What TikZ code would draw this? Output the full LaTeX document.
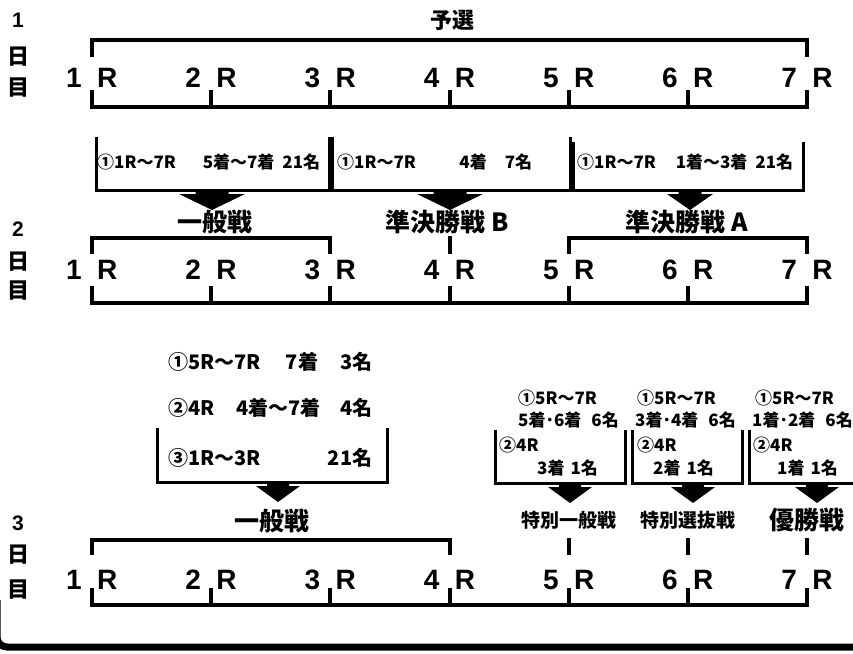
\documentclass[tikz,border=0pt]{standalone}
\usepackage{fontspec}
\newfontfamily\jpfont{Noto Sans CJK JP}
\newfontfamily\latinfont{Liberation Sans}
\usetikzlibrary{calc,positioning}

\newcommand{\fs}[1]{\fontsize{#1}{#1}\selectfont}

\begin{document}
\begin{tikzpicture}[x=1pt,y=-1pt,
    bracket/.style={line width=4pt,line cap=rect},
    boxline/.style={line width=3pt},
    racefont/.style={font=\latinfont\bfseries\fs{28},inner sep=0pt},
    dayfont/.style={font=\jpfont\bfseries\fs{22},inner sep=0pt},
    headfont/.style={font=\jpfont\bfseries\fs{25},inner sep=0pt},
    infofont/.style={font=\jpfont\bfseries\fs{17},inner sep=0pt,anchor=west}]

    \useasboundingbox (0,0) rectangle (853,653);

    % 日付 day labels
    \foreach \d/\ya/\yb/\yc in {1/20/57/88, 2/229/262/291, 3/523/555/590}
    {
        \node[font=\latinfont\bfseries\fs{21},inner sep=0pt] (dayNum\d) at (18,\ya) {\d};
        \node[dayfont] (dayHi\d) at (18,\yb) {日};
        \node[dayfont] (dayMe\d) at (18,\yc) {目};
    };

    % レース番号 races and bottom brackets
    \foreach \d/\ry/\by in {1/78/107, 2/270/303, 3/580/605}
    {
        \foreach \i in {1,...,7}
        {
            \pgfmathsetmacro{\xx}{92+119.2*(\i-1)}
            \coordinate (cT\d\i) at (\xx,\by);
            \node[racefont,anchor=east] (num\d\i) at (\xx-10,\ry) {\i};
            \node[racefont,anchor=west] (r\d\i) at (\xx+5,\ry) {R};
            \draw[bracket] (cT\d\i) -- ++(0,-15);
        };
        \draw[bracket] (cT\d1) -- (cT\d7);
    };

    % top brackets
    \draw[bracket] (92,55) -- (92,40) -- (807,40) -- (807,55);
    \draw[bracket] (92,252) -- (92,238) -- (330.4,238) -- (330.4,252);
    \draw[bracket] (449.6,238) -- (449.6,252);
    \draw[bracket] (568.8,252) -- (568.8,238) -- (807,238) -- (807,252);
    \draw[bracket] (92,553) -- (92,540) -- (449.6,540) -- (449.6,553);
    \foreach \x in {568.8,688,807.2}
        \draw[bracket] (\x,540) -- (\x,553);

    % 見出し headings
    \node[headfont,font=\jpfont\bfseries\fs{22}] (hYosen) at (452,20) {予選};
    \node[headfont] (hIppan2) at (215,222) {一般戦};
    \node[headfont] (hSemiB) at (447,222) {準決勝戦 B};
    \node[headfont] (hSemiA) at (687,222) {準決勝戦 A};
    \node[headfont] (hIppan3) at (272,521) {一般戦};
    \node[headfont,font=\jpfont\bfseries\fs{19}] (hTokuIppan) at (569,520) {特別一般戦};
    \node[headfont,font=\jpfont\bfseries\fs{19}] (hTokuSenbatsu) at (688,520) {特別選抜戦};
    \node[headfont] (hYusho) at (807,520) {優勝戦};

    % boxes
    \foreach \l/\r/\t/\b in {96/329/137/190, 332/570/137/190, 573/803/142/190,
        157/387/428/482, 495/625/430/483, 632/742/430/483, 749/870/430/483}
        \draw[boxline] (\l,\t) -- (\l,\b) -- (\r,\b) -- (\r,\t);

    % arrows
    \foreach \x/\y/\w in {212/190/33, 450/190/33, 690/190/23,
        278/482/22, 570/483/22, 693/483/22, 817/483/22}
        \fill ({\x-\w/2},\y) -- ({\x+\w/2},\y) -- ({\x+\w/2},\y+4) -- ({\x+\w},\y+4)
            -- (\x,\y+20) -- ({\x-\w},\y+4) -- ({\x-\w/2},\y+4) -- cycle;

    % 2日目 conditions
    \node[infofont,text width=223pt] (info2a) at (97,162) {①1R～7R\hfill 5着～7着\hspace{8pt}21名};
    \node[infofont,text width=195pt] (info2b) at (337,162) {①1R～7R\hfill 4着\hspace{18pt}7名};
    \node[infofont,text width=216pt] (info2c) at (577,162) {①1R～7R\hfill 1着～3着\hspace{8pt}21名};

    % 3日目 conditions
    \node[infofont,font=\jpfont\bfseries\fs{20},text width=204pt] (info3a) at (168,362) {①5R～7R\hspace{25pt}7着\hfill 3名};
    \node[infofont,font=\jpfont\bfseries\fs{20},text width=204pt] (info3b) at (168,408) {②4R\hspace{22pt}4着～7着\hfill 4名};
    \node[infofont,font=\jpfont\bfseries\fs{20},text width=204pt] (info3c) at (168,458) {③1R～3R\hfill 21名};

    \foreach \n/\xa/\xb/\xc/\xd/\ta/\tb in {A/518/518/499/537/5着･6着/3着,
        B/637/635/637/653/3着･4着/2着, C/755/752/753/777/1着･2着/1着}
    {
        \node[infofont] (info\n1) at (\xa,398) {①5R～7R};
        \node[infofont] (info\n2) at (\xb,420) {\ta\hspace{10pt}6名};
        \node[infofont] (info\n3) at (\xc,445) {②4R};
        \node[infofont] (info\n4) at (\xd,468) {\tb\hspace{6pt}1名};
    };

    % 枠 frame
    \draw[line width=7pt,rounded corners=10pt] (-3,600) -- (-3,647) -- (870,647);

\end{tikzpicture}
\end{document}
